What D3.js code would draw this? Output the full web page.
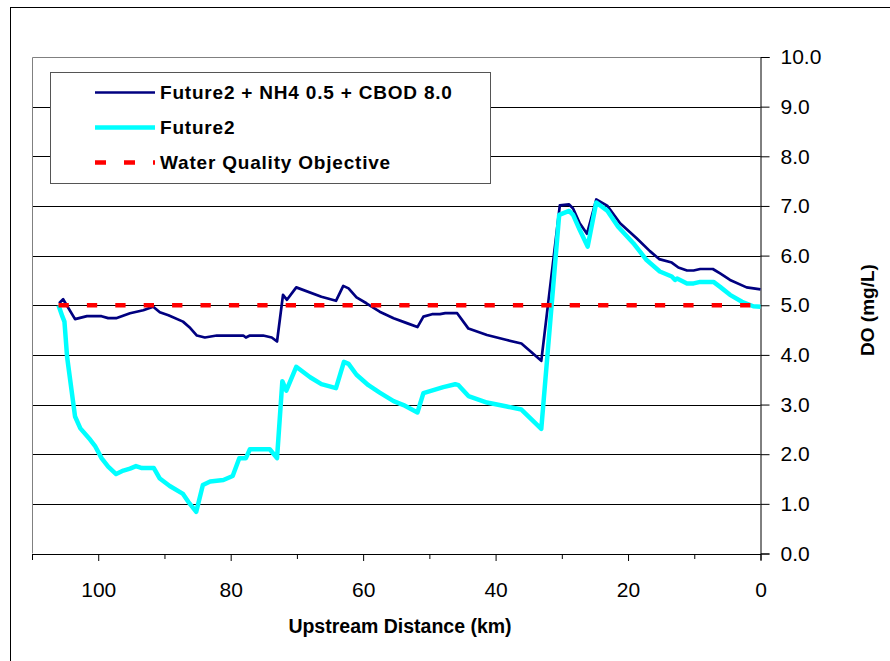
<!DOCTYPE html>
<html>
<head>
<meta charset="utf-8">
<script src="https://cdn.jsdelivr.net/npm/d3@7"></script>
<style>
    body { margin: 0; background: #fff; }
    text { font-family: "Liberation Sans", Arial, sans-serif; }
</style>
</head>
<body>
<div id="chart"></div>
<script>
const chartWidth = 890, chartHeight = 661;
const plotMargin = {top: 57, right: 129.5, bottom: 107.5, left: 32},
      plotWidth = chartWidth - plotMargin.left - plotMargin.right,
      plotHeight = chartHeight - plotMargin.top - plotMargin.bottom;

// Future2 + NH4 0.5 + CBOD 8.0
const combinedKm = [105.9, 105.3, 103.5, 101.7, 99.5, 98.5, 97.3, 95.2, 93.2, 91.7, 90.7, 89.4, 87.2, 86.1, 85.1, 83.9, 82.1, 78.1, 77.7, 77.1,
    75.1, 73.8, 73.0, 72.1, 71.5, 70.1, 66.3, 64.1, 63.0, 62.2, 61.0, 59.5, 57.5, 55.4, 53.4, 51.8, 50.9, 49.6, 48.4, 47.6,
    45.8, 44.1, 41.3, 38.3, 36.1, 33.1, 30.3, 28.9, 28.3, 27.3, 26.2, 24.8, 23.1, 21.2, 18.7, 16.7, 15.3, 13.4, 12.4, 11.1,
    10.1, 9.1, 7.2, 6.1, 4.6, 2.1, 0];
const combinedDO = [5.04, 5.12, 4.72, 4.78, 4.78, 4.74, 4.74, 4.84, 4.90, 4.97, 4.86, 4.80, 4.67, 4.54, 4.39, 4.35, 4.39, 4.39, 4.35, 4.39,
    4.39, 4.35, 4.27, 5.21, 5.11, 5.36, 5.17, 5.09, 5.39, 5.34, 5.16, 5.04, 4.87, 4.74, 4.64, 4.56, 4.77, 4.82, 4.82, 4.84,
    4.84, 4.53, 4.40, 4.30, 4.23, 3.88, 7.01, 7.03, 6.95, 6.65, 6.44, 7.13, 7.00, 6.65, 6.35, 6.09, 5.93, 5.86, 5.76, 5.70,
    5.70, 5.73, 5.73, 5.64, 5.51, 5.36, 5.32];

// Future2
const future2Km = [106.0, 105.4, 105.1, 104.7, 103.5, 102.7, 101.2, 100.5, 99.5, 98.5, 97.3, 96.2, 95.2, 94.3, 93.4, 91.6, 90.7, 89.2, 87.2, 86.4,
    85.2, 84.2, 83.1, 81.1, 79.7, 78.7, 77.7, 77.1, 74.1, 73.0, 72.2, 71.6, 70.1, 68.0, 66.3, 64.1, 62.9, 62.2, 61.0, 59.2,
    57.5, 55.4, 53.9, 51.8, 50.9, 49.4, 47.9, 46.1, 45.6, 44.1, 41.3, 38.3, 36.1, 33.1, 30.4, 28.9, 28.3, 27.3, 26.1, 24.8,
    23.1, 21.5, 19.2, 17.2, 15.2, 13.4, 12.9, 12.6, 11.1, 10.1, 9.1, 7.1, 6.1, 4.6, 2.8, 1.1, 0];
const future2DO = [5.00, 4.77, 4.67, 3.96, 2.76, 2.52, 2.29, 2.17, 1.92, 1.75, 1.60, 1.67, 1.71, 1.76, 1.72, 1.72, 1.51, 1.36, 1.20, 1.04,
    0.84, 1.38, 1.45, 1.48, 1.56, 1.92, 1.92, 2.10, 2.10, 1.92, 3.47, 3.28, 3.76, 3.55, 3.41, 3.33, 3.86, 3.82, 3.60, 3.39,
    3.24, 3.07, 2.99, 2.84, 3.23, 3.29, 3.35, 3.41, 3.39, 3.17, 3.04, 2.96, 2.90, 2.51, 6.82, 6.90, 6.82, 6.52, 6.18, 7.07,
    6.90, 6.58, 6.25, 5.91, 5.68, 5.58, 5.51, 5.54, 5.44, 5.44, 5.47, 5.47, 5.37, 5.21, 5.07, 4.98, 4.97];

// Water Quality Objective
const objectiveKm = [106, 0];
const objectiveDO = [5, 5];

const seriesNames = ["Future2 + NH4 0.5 + CBOD 8.0", "Future2", "Water Quality Objective"];
const seriesColors = ["#000080", "#00ffff", "#ff0000"];
const seriesWidths = [2.7, 4.5, 4.5];
const seriesDashes = [null, null, "10.3,18.1"];

const xTickValues = [0, 10, 20, 30, 40, 50, 60, 70, 80, 90, 100, 110];
const xLabelValues = [0, 20, 40, 60, 80, 100];
const yTickValues = [0, 1, 2, 3, 4, 5, 6, 7, 8, 9, 10];

function zipSeries(kms, values) {
    return kms.map(function (k, i) { return {x: k, y: values[i]}; });
}

const allSeries = [
    zipSeries(combinedKm, combinedDO),
    zipSeries(future2Km, future2DO),
    zipSeries(objectiveKm, objectiveDO)
];

const svg = d3.select("#chart")
    .append("svg")
    .attr("width", chartWidth)
    .attr("height", chartHeight);

// outer chart border (cut off at right and bottom)
svg.append("rect")
    .attr("x", 10.5).attr("y", 7.5)
    .attr("width", 900).attr("height", 700)
    .style("fill", "none").style("stroke", "#000");

const plot = svg.append("g")
    .attr("transform", "translate(" + plotMargin.left + "," + plotMargin.top + ")");

const xScale = d3.scaleLinear().domain([110, 0]).range([0, plotWidth]);
const yScale = d3.scaleLinear().domain([0, 10]).range([plotHeight, 0]);

// gridlines
plot.append("g")
    .selectAll("line")
    .data(yTickValues.filter(function (d) { return d > 0 && d < 10; }))
    .enter().append("line")
    .attr("x1", 0).attr("x2", plotWidth)
    .attr("y1", function (d) { return Math.round(yScale(d)) + 0.5; })
    .attr("y2", function (d) { return Math.round(yScale(d)) + 0.5; })
    .style("stroke", "#000").style("stroke-width", 1);

// plot area border: top and left in gray
plot.append("path")
    .attr("d", "M0.5," + plotHeight + "V0.5H" + plotWidth)
    .style("fill", "none").style("stroke", "#808080");

// x axis with minor ticks every 10 km and labels every 20 km
const xAxis = plot.append("g")
    .attr("transform", "translate(0," + (plotHeight + 0.5) + ")")
    .call(d3.axisBottom(xScale).tickValues(xTickValues).tickSizeOuter(0)
        .tickSize(6).tickFormat(function (d) { return xLabelValues.indexOf(d) >= 0 ? d : ""; }));
xAxis.select(".domain").style("stroke", "#000");
xAxis.selectAll(".tick line").attr("y2", function (d) { return xLabelValues.indexOf(d) >= 0 ? 7 : 5; });
xAxis.selectAll(".tick text")
    .attr("y", 43).attr("dy", "0")
    .style("font-size", "21px").style("fill", "#000");

// y axis on right side
const yAxis = plot.append("g")
    .attr("transform", "translate(" + (plotWidth) + ",0)")
    .call(d3.axisRight(yScale).tickValues(yTickValues).tickSizeOuter(0)
        .tickSize(9).tickPadding(11).tickFormat(d3.format(".1f")));
yAxis.select(".domain").style("stroke", "#000");
yAxis.selectAll(".tick text")
    .style("font-size", "21px").style("fill", "#000");

// series lines
allSeries.forEach(function (data, i) {
    plot.append("path")
        .datum(data)
        .style("fill", "none")
        .style("stroke", seriesColors[i])
        .style("stroke-width", seriesWidths[i])
        .style("stroke-linejoin", "round")
        .style("stroke-dasharray", seriesDashes[i])
        .attr("d", d3.line()
            .x(function (d) { return xScale(d.x); })
            .y(function (d) { return yScale(d.y); }));
});

// axis titles
svg.append("text")
    .attr("x", 400).attr("y", 633)
    .attr("text-anchor", "middle")
    .style("font-size", "19.5px").style("font-weight", "bold")
    .text("Upstream Distance (km)");

svg.append("text")
    .attr("transform", "translate(874,310) rotate(-90)")
    .attr("text-anchor", "middle")
    .style("font-size", "19px").style("font-weight", "bold")
    .text("DO (mg/L)");

// legend
const legend = svg.append("g");
legend.append("rect")
    .attr("x", 50.5).attr("y", 72.5)
    .attr("width", 440).attr("height", 111)
    .style("fill", "#fff").style("stroke", "#555");

const legendRows = [92.5, 127.5, 162.5];
seriesNames.forEach(function (name, i) {
    legend.append("line")
        .attr("x1", 95).attr("x2", 155)
        .attr("y1", legendRows[i]).attr("y2", legendRows[i])
        .style("stroke", seriesColors[i])
        .style("stroke-width", i === 0 ? 2.7 : 4.5)
        .style("stroke-dasharray", i === 2 ? "11,18" : null);
    legend.append("text")
        .attr("x", 160).attr("y", legendRows[i] + 6.5)
        .style("font-size", "19px").style("font-weight", "bold")
        .style("letter-spacing", "0.8px")
        .text(name);
});
</script>
</body>
</html>
